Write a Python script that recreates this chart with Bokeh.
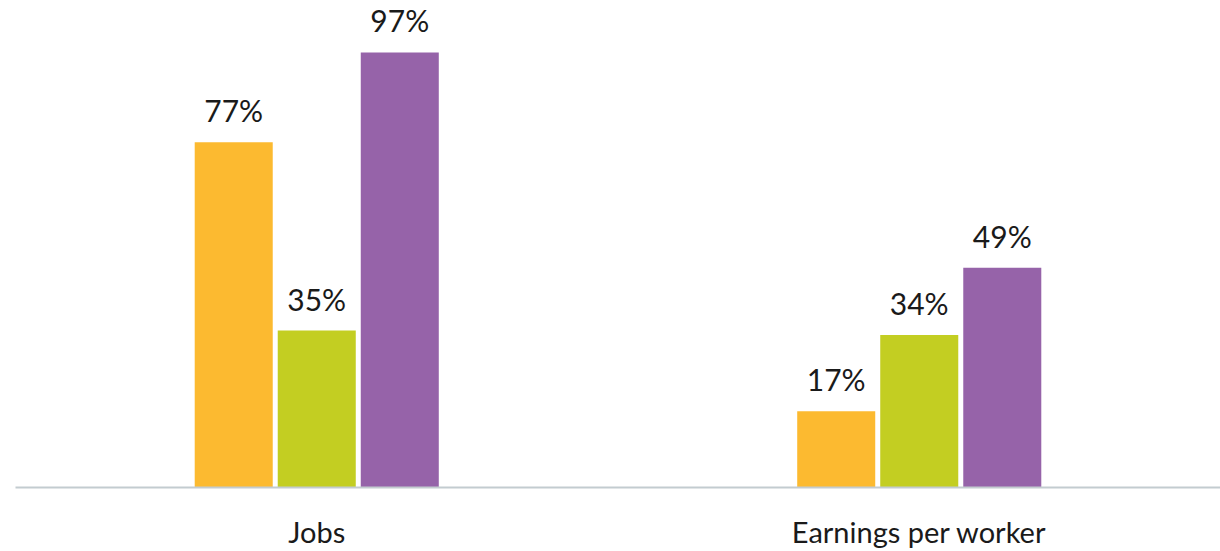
from bokeh.plotting import figure
from bokeh.models import ColumnDataSource, Range1d, LabelSet
from bokeh.transform import dodge
from bokeh.embed import file_html
from bokeh.resources import INLINE
from bokeh.core.properties import value

categories = ["Jobs", "Earnings per worker"]
series_a = [77, 17]
series_b = [35, 34]
series_c = [97, 49]
colors = ["#FCBA30", "#C3CE22", "#9663A9"]

src = ColumnDataSource(dict(
    cat=categories,
    a=series_a, b=series_b, c=series_c,
    la=[f"{v}%" for v in series_a],
    lb=[f"{v}%" for v in series_b],
    lc=[f"{v}%" for v in series_c],
))

p = figure(x_range=categories, y_range=Range1d(0, 106.8),
           frame_width=1205, frame_height=479,
           output_backend="svg", toolbar_location=None,
           min_border_left=15, min_border_right=0, min_border_top=8, min_border_bottom=64)
p.outline_line_color = None
p.xgrid.grid_line_color = None
p.ygrid.grid_line_color = None
p.yaxis.visible = False
p.x_range.range_padding = 0

off = 0.1378
bw = 0.1295
for key, dx, col in [("a", -off, colors[0]), ("b", 0.0, colors[1]), ("c", off, colors[2])]:
    p.vbar(x=dodge("cat", dx, range=p.x_range), top=key, width=bw, source=src,
           fill_color=col, line_color=None)
    lab = LabelSet(x=dodge("cat", dx, range=p.x_range), y=key, text="l" + key, source=src,
                   text_align="center", text_baseline="bottom", y_offset=14,
                   text_font=value("Lato"), text_font_size="30px", text_color="#1a1a1a")
    p.add_layout(lab)

ax = p.xaxis[0]
ax.axis_line_color = "#c3ccd0"
ax.axis_line_width = 2
ax.major_tick_line_color = None
ax.minor_tick_line_color = None
ax.major_tick_in = 0
ax.major_tick_out = 0
ax.major_label_standoff = 26
ax.major_label_text_font = "Lato"
ax.major_label_text_font_size = "29px"
ax.major_label_text_color = "#1a1a1a"

open("out.html", "w").write(file_html(p, INLINE))
